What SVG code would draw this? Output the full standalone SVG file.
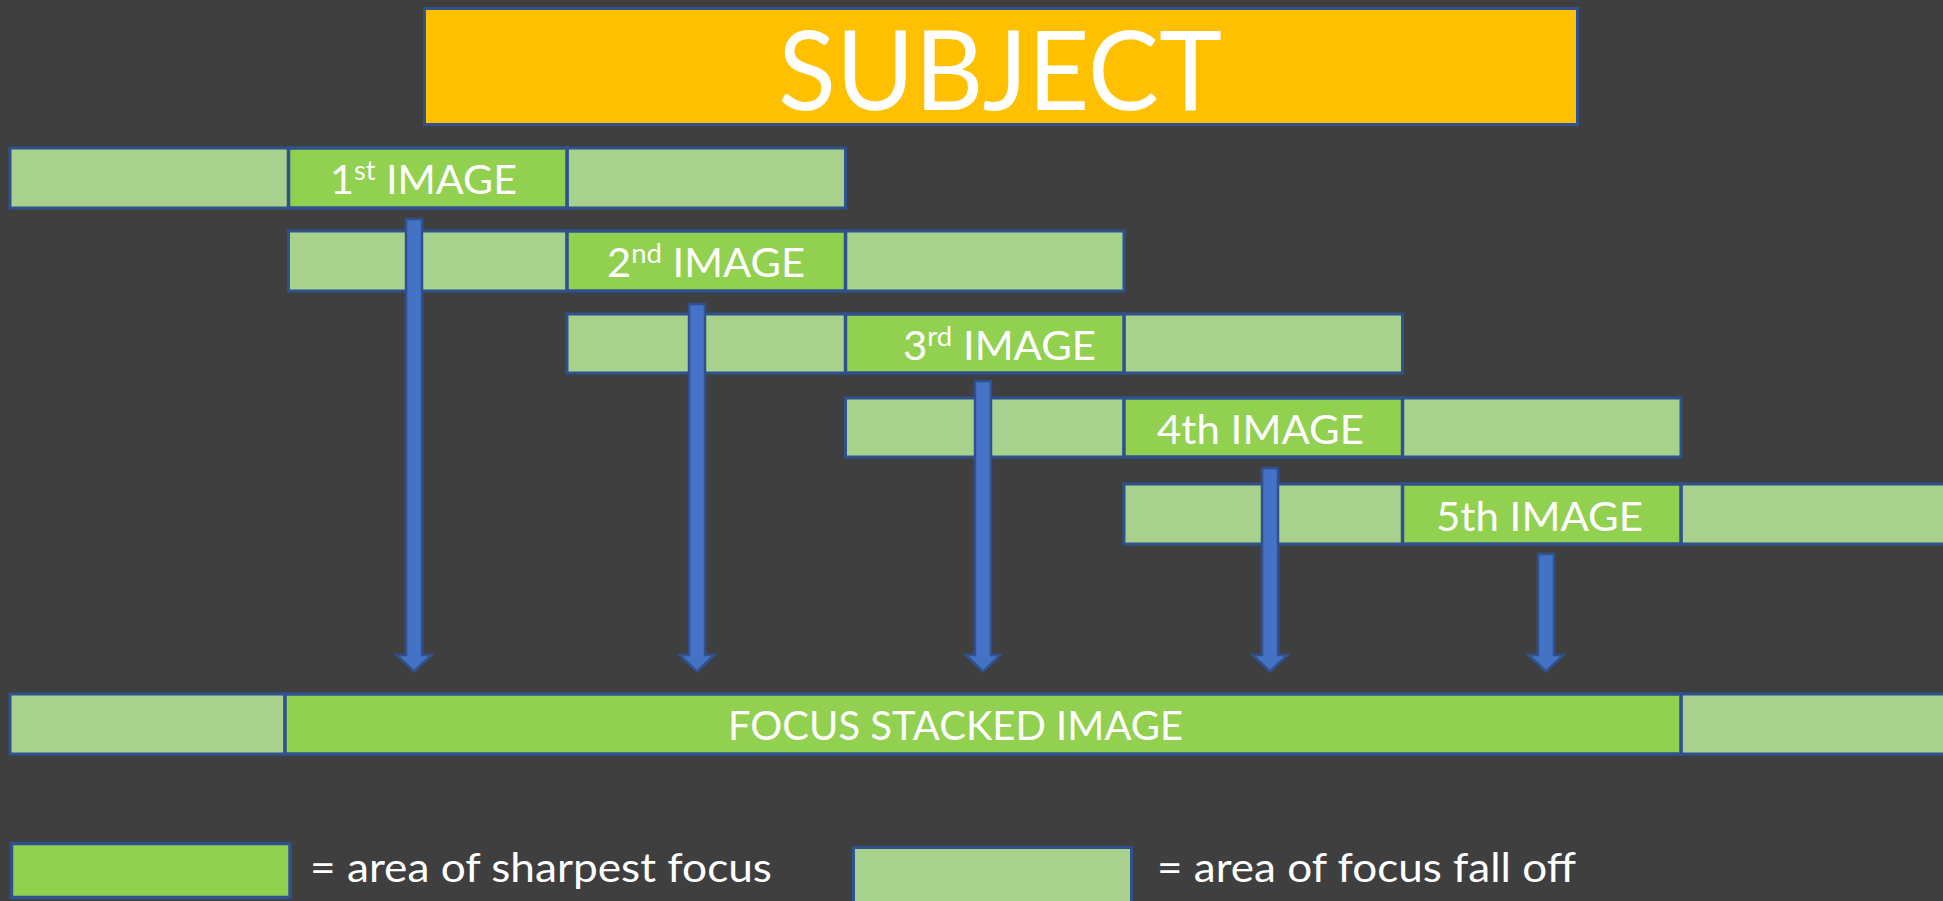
<svg xmlns="http://www.w3.org/2000/svg" width="1943" height="901" viewBox="0 0 1943 901">
<style>
.bg{fill:#3F3F3F}
.subj{fill:#FFC000;stroke:#2F528F;stroke-width:3}
.lt{fill:#A9D18E;stroke:#2F528F;stroke-width:3}
.dk{fill:#92D050;stroke:#2F528F;stroke-width:3.5}
.lbl{font-family:Lato,"Liberation Sans",sans-serif;fill:#FFFFFF;font-size:41px}
.big{font-family:Lato,"Liberation Sans",sans-serif;fill:#FFFFFF;font-size:110px}
.sup{font-size:27px}
.arr{fill:#4472C4;stroke:#2F528F;stroke-width:2.5;stroke-linejoin:miter}
</style>
<rect class="bg" x="0" y="0" width="1943" height="901"/>

<g id="subject">
<rect class="subj" x="424.5" y="8.5" width="1153" height="116"/>
<text class="big" x="778" y="110" textLength="444" lengthAdjust="spacingAndGlyphs">SUBJECT</text>
</g>

<g id="image1">
<rect class="lt" x="10" y="148" width="278.5" height="60"/>
<rect class="lt" x="567" y="148" width="278.5" height="60"/>
<rect class="dk" x="288.5" y="148" width="278.5" height="60"/>
<text class="lbl" x="330" y="194" textLength="187" lengthAdjust="spacingAndGlyphs">1<tspan class="sup" dy="-14">st</tspan><tspan dy="14"> IMAGE</tspan></text>
</g>

<g id="image2">
<rect class="lt" x="288.5" y="231" width="278.5" height="60"/>
<rect class="lt" x="845.5" y="231" width="278.5" height="60"/>
<rect class="dk" x="567" y="231" width="278.5" height="60"/>
<text class="lbl" x="607" y="277" textLength="198" lengthAdjust="spacingAndGlyphs">2<tspan class="sup" dy="-14">nd</tspan><tspan dy="14"> IMAGE</tspan></text>
</g>

<g id="image3">
<rect class="lt" x="567" y="314" width="278.5" height="59"/>
<rect class="lt" x="1124" y="314" width="278.5" height="59"/>
<rect class="dk" x="845.5" y="314" width="278.5" height="59"/>
<text class="lbl" x="903" y="360" textLength="193" lengthAdjust="spacingAndGlyphs">3<tspan class="sup" dy="-14">rd</tspan><tspan dy="14"> IMAGE</tspan></text>
</g>

<g id="image4">
<rect class="lt" x="845.5" y="398" width="278.5" height="59"/>
<rect class="lt" x="1402.5" y="398" width="278.5" height="59"/>
<rect class="dk" x="1124" y="398" width="278.5" height="59"/>
<text class="lbl" x="1157" y="444" textLength="207" lengthAdjust="spacingAndGlyphs">4th IMAGE</text>
</g>

<g id="image5">
<rect class="lt" x="1124" y="484" width="278.5" height="60"/>
<rect class="lt" x="1681" y="484" width="278.5" height="60"/>
<rect class="dk" x="1402.5" y="484" width="278.5" height="60"/>
<text class="lbl" x="1436" y="531" textLength="207" lengthAdjust="spacingAndGlyphs">5th IMAGE</text>
</g>

<g id="connectors">
<path class="arr" d="M406,219 H422 V655 H431.5 L414,671.5 L396.5,655 H406 Z"/>
<path class="arr" d="M689,304 H705 V655 H714.5 L697,671.5 L679.5,655 H689 Z"/>
<path class="arr" d="M975,381 H991 V655 H1000.5 L983,671.5 L965.5,655 H975 Z"/>
<path class="arr" d="M1262,468 H1278 V655 H1287.5 L1270,671.5 L1252.5,655 H1262 Z"/>
<path class="arr" d="M1538,554 H1554 V655 H1563.5 L1546,671.5 L1528.5,655 H1538 Z"/>
</g>

<g id="stacked">
<rect class="lt" x="10" y="694" width="275" height="60"/>
<rect class="lt" x="1681" y="694" width="278.5" height="60"/>
<rect class="dk" x="285" y="694" width="1396" height="60"/>
<text class="lbl" x="728" y="740" textLength="455" lengthAdjust="spacingAndGlyphs">FOCUS STACKED IMAGE</text>
</g>

<g id="legend-sharp">
<rect class="dk" x="11.5" y="843.5" width="278.5" height="54"/>
<text class="lbl" x="310" y="882" textLength="462" lengthAdjust="spacingAndGlyphs">= area of sharpest focus</text>
</g>

<g id="legend-falloff">
<rect class="lt" x="853.5" y="847.5" width="278" height="60"/>
<text class="lbl" x="1157" y="882" textLength="419" lengthAdjust="spacingAndGlyphs">= area of focus fall off</text>
</g>
</svg>
